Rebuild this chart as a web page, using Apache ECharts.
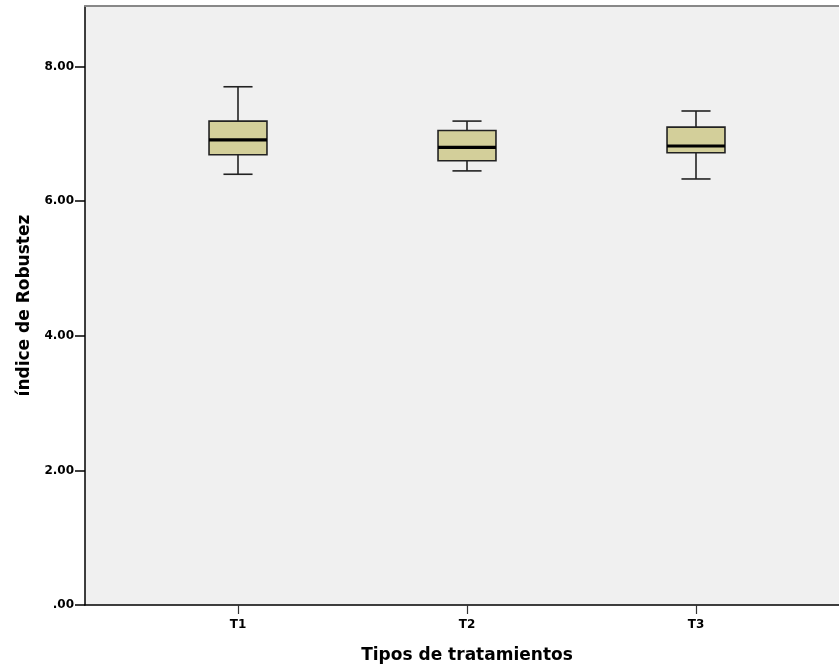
<!DOCTYPE html>
<html><head><meta charset="utf-8">
<script src="https://cdn.jsdelivr.net/npm/echarts@6/dist/echarts.min.js"></script>
<style>html,body{margin:0;padding:0;background:#fff}#c{width:839px;height:670px}</style>
</head><body><div id="c"></div>
<script>
const categories = ['T1', 'T2', 'T3'];
const lowWhisker = [6.40, 6.45, 6.33];
const q1 = [6.69, 6.60, 6.72];
const median = [6.91, 6.80, 6.82];
const q3 = [7.19, 7.05, 7.10];
const highWhisker = [7.70, 7.19, 7.34];
const yTicks = [0, 2, 4, 6, 8];

const rows = categories.map((c, i) => [i, lowWhisker[i], q1[i], median[i], q3[i], highWhisker[i]]);
const FONT = 'DejaVu Sans';
const fmt = v => v.toFixed(2).replace(/^0/, '');

const chart = echarts.init(document.getElementById('c'), null, {renderer: 'canvas'});
chart.setOption({
  animation: false,
  backgroundColor: '#ffffff',
  grid: [
    {left: 85, right: 0, top: 6, bottom: 65, show: true, backgroundColor: '#f0f0f0', borderWidth: 0},
    {left: 123.5, right: 28.5, top: 6, bottom: 65}
  ],
  xAxis: [
    {gridIndex: 0, type: 'value', min: 0, max: 1, axisLine: {show: true, onZero: false, lineStyle: {color: '#000', width: 1.5}},
     axisTick: {show: false}, axisLabel: {show: false}, splitLine: {show: false}},
    {gridIndex: 0, type: 'value', position: 'top', min: 0, max: 1, axisLine: {show: true, onZero: false, lineStyle: {color: '#888', width: 2}},
     axisTick: {show: false}, axisLabel: {show: false}, splitLine: {show: false}},
    {gridIndex: 1, type: 'category', data: categories, boundaryGap: true,
     axisLine: {show: false}, axisTick: {show: true, alignWithLabel: true, length: 9, lineStyle: {color: '#333', width: 1.2}},
     axisLabel: {color: '#000', fontFamily: FONT, fontWeight: 'bold', fontSize: 12, margin: 14},
     name: 'Tipos de tratamientos', nameLocation: 'middle', nameGap: 42,
     nameTextStyle: {color: '#000', fontFamily: FONT, fontWeight: 'bold', fontSize: 17}}
  ],
  yAxis: [
    {gridIndex: 0, type: 'value', min: 0, max: 8.9,
     axisLine: {show: true, onZero: false, lineStyle: {color: '#000', width: 1.5}},
     axisTick: {show: true, length: 10, customValues: yTicks, lineStyle: {color: '#000', width: 1.5}},
     axisLabel: {customValues: yTicks, formatter: fmt, color: '#000', fontFamily: FONT, fontWeight: 'bold', fontSize: 12, margin: 11},
     splitLine: {show: false},
     name: 'índice de Robustez', nameLocation: 'middle', nameGap: 45, nameRotate: 90,
     nameTextStyle: {color: '#000', fontFamily: FONT, fontWeight: 'bold', fontSize: 17}},
    {gridIndex: 1, type: 'value', min: 0, max: 8.9, show: false}
  ],
  series: [{
    type: 'custom',
    xAxisIndex: 2, yAxisIndex: 1,
    data: rows,
    encode: {x: 0, y: [1, 2, 3, 4, 5]},
    renderItem: function (params, api) {
      const i = api.value(0);
      const band = api.size([1, 0])[0];
      const bw = band * 0.253, cw = band * 0.127;
      const pLow = api.coord([i, api.value(1)]);
      const pQ1 = api.coord([i, api.value(2)]);
      const pMed = api.coord([i, api.value(3)]);
      const pQ3 = api.coord([i, api.value(4)]);
      const pHigh = api.coord([i, api.value(5)]);
      const x = pMed[0];
      const ls = {stroke: '#222', lineWidth: 1.6};
      return {
        type: 'group',
        children: [
          {type: 'line', shape: {x1: x, y1: pHigh[1], x2: x, y2: pQ3[1]}, style: ls},
          {type: 'line', shape: {x1: x, y1: pQ1[1], x2: x, y2: pLow[1]}, style: ls},
          {type: 'line', shape: {x1: x - cw / 2, y1: pHigh[1], x2: x + cw / 2, y2: pHigh[1]}, style: ls},
          {type: 'line', shape: {x1: x - cw / 2, y1: pLow[1], x2: x + cw / 2, y2: pLow[1]}, style: ls},
          {type: 'rect', shape: {x: x - bw / 2, y: pQ3[1], width: bw, height: pQ1[1] - pQ3[1]},
           style: {fill: '#d3cf9a', stroke: '#222', lineWidth: 1.6}},
          {type: 'line', shape: {x1: x - bw / 2, y1: pMed[1], x2: x + bw / 2, y2: pMed[1]}, style: {stroke: '#000', lineWidth: 3.2}}
        ]
      };
    }
  }]
});
</script></body></html>
